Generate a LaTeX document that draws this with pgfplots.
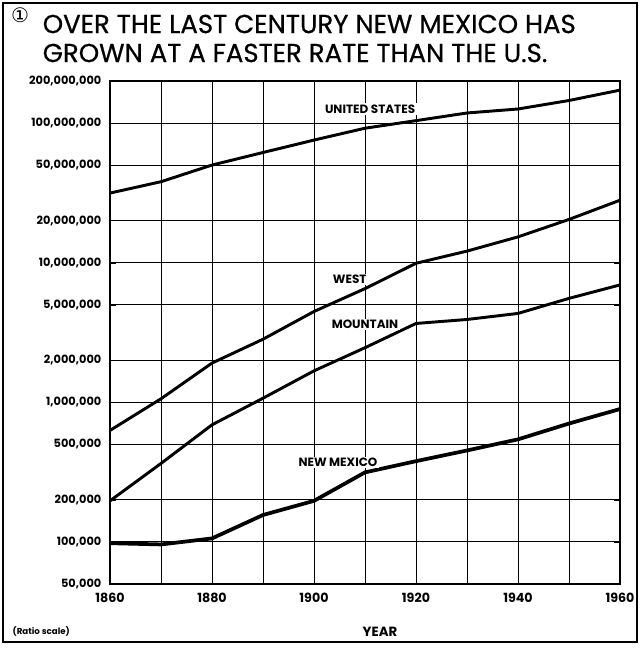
\documentclass[border=0pt]{standalone}
\usepackage{pgfplots}
\pgfplotsset{compat=1.18}
\usepackage{fontspec}
\setmainfont{Poppins}
\newfontfamily\symfont{DejaVu Sans}
\newfontfamily\titlefont{Poppins}[FakeBold=0.6]
\pgfplotstableread{
year us west mountain nm
1860 31500000 629000 197000 98000
1870 38000000 1060000 365000 96000
1880 50000000 1910000 690000 106000
1890 61500000 2830000 1070000 156000
1900 75500000 4470000 1680000 197000
1910 91800000 6520000 2460000 315000
1920 104000000 9900000 3670000 379000
1930 118000000 12100000 3920000 452000
1940 126000000 15300000 4330000 543000
1950 145000000 20400000 5550000 705000
1960 172000000 28000000 6930000 895000
}\data
\begin{document}
\begin{tikzpicture}
\begin{scope}[x=0.75pt,y=-0.75pt]
\path[use as bounding box] (0,0) rectangle (640,648);
\draw[line width=1.1pt] (3,3) rectangle (637,642);
\node[font=\symfont\fontsize{15}{16}\selectfont] at (20,15) {①};
\node[anchor=west,font=\titlefont\fontsize{19.5}{21}\selectfont] at (38,24) {OVER THE LAST CENTURY NEW MEXICO HAS};
\node[anchor=west,font=\titlefont\fontsize{19.5}{21}\selectfont] at (38,53) {GROWN AT A FASTER RATE THAN THE U.S.};
\node[anchor=west,font=\fontsize{6.5}{7}\selectfont\bfseries] at (8,631) {(Ratio scale)};
\node[font=\fontsize{10}{11}\selectfont\bfseries] at (380,632) {YEAR};
\end{scope}
\begin{axis}[
  at={(82.5pt,-60.75pt)}, anchor=north west,
  scale only axis, width=382.5pt, height=377.25pt,
  xmin=1860, xmax=1960,
  ymode=log, ymin=50000, ymax=200000000,
  xtick={1860,1870,...,1960},
  xticklabels={1860,,1880,,1900,,1920,,1940,,1960},
  ytick={50000,100000,200000,500000,1000000,2000000,5000000,10000000,20000000,50000000,100000000,200000000},
  yticklabels={{50,000},{100,000},{200,000},{500,000},{1,000,000},{2,000,000},{5,000,000},{10,000,000},{20,000,000},{50,000,000},{100,000,000},{200,000,000}},
  yticklabel style={font=\fontsize{8.5}{9}\selectfont\bfseries, xshift=-3pt},
  xticklabel style={font=\fontsize{9.5}{10}\selectfont\bfseries, yshift=-3pt},
  grid=major,
  major grid style={black, line width=0.7pt},
  axis line style={black, line width=0.9pt},
  tick style={black},
  minor tick num=0,
  log basis y=10,
  clip=false,
]
\addplot[black, line width=2.2pt] table[x=year,y=us] {\data};
\addplot[black, line width=2.2pt] table[x=year,y=west] {\data};
\addplot[black, line width=2.2pt] table[x=year,y=mountain] {\data};
\addplot[black, line width=2.8pt] table[x=year,y=nm] {\data};
\node[fill=white, inner sep=1pt, font=\fontsize{9}{10}\selectfont\bfseries] at (axis cs:1911,1.26e8) {UNITED STATES};
\node[fill=white, inner sep=1pt, font=\fontsize{9}{10}\selectfont\bfseries] at (axis cs:1907,7.6e6) {WEST};
\node[fill=white, inner sep=1pt, font=\fontsize{9}{10}\selectfont\bfseries] at (axis cs:1910,3.6e6) {MOUNTAIN};
\node[fill=white, inner sep=1pt, font=\fontsize{9}{10}\selectfont\bfseries] at (axis cs:1904.7,3.72e5) {NEW MEXICO};
\end{axis}
\end{tikzpicture}
\end{document}
